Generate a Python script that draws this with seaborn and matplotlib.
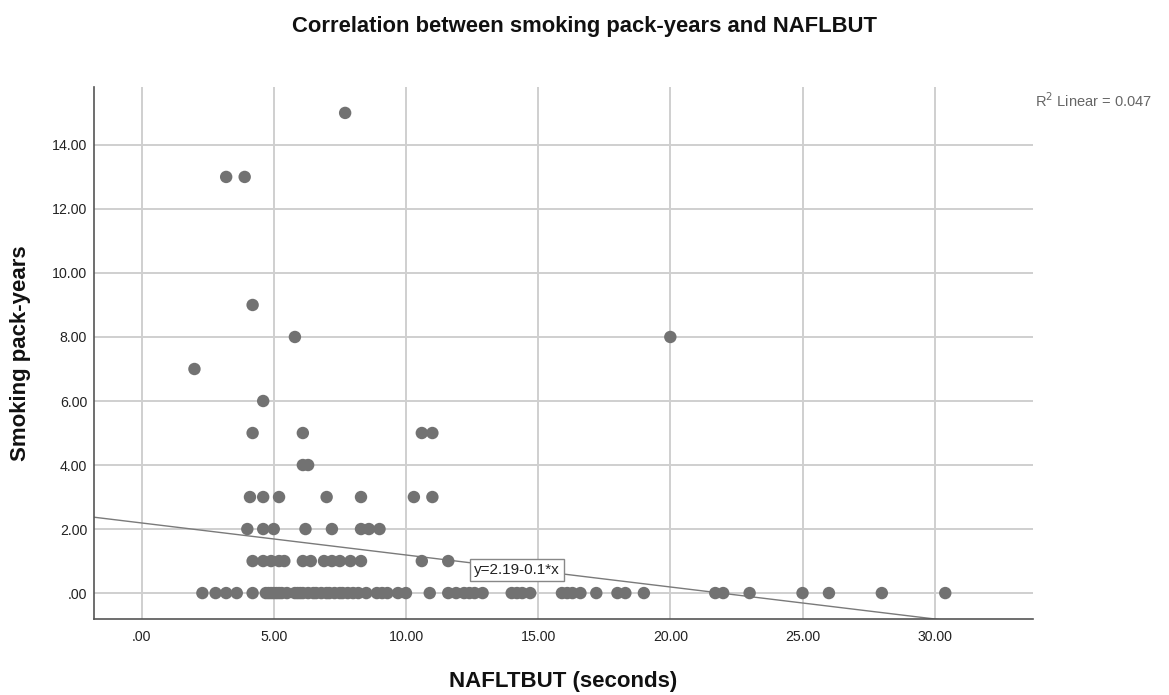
import numpy as np
import pandas as pd
import matplotlib
matplotlib.use("Agg")
import matplotlib.pyplot as plt
import seaborn as sns

# NAFLTBUT (seconds) and smoking pack-years, grouped by pack-years value
x_py0 = [2.3, 2.8, 3.2, 3.6, 4.2, 4.7, 4.8, 4.9, 5.0, 5.1, 5.2, 5.3, 5.5, 5.8,
         5.9, 6.0, 6.1, 6.3, 6.5, 6.6, 6.8, 7.0, 7.1, 7.3, 7.5, 7.6, 7.8, 8.0,
         8.2, 8.5, 8.9, 9.1, 9.3, 9.7, 10.0, 10.9, 11.6, 11.9, 12.2, 12.4,
         12.6, 12.9, 14.0, 14.2, 14.4, 14.7, 15.9, 16.1, 16.3, 16.6, 17.2,
         18.0, 18.3, 19.0, 21.7, 22.0, 23.0, 25.0, 26.0, 28.0, 30.4]
x_py1 = [4.2, 4.6, 4.9, 5.2, 5.4, 6.1, 6.4, 6.9, 7.2, 7.5, 7.9, 8.3, 10.6, 11.6]
x_py2 = [4.0, 4.6, 5.0, 6.2, 7.2, 8.3, 8.6, 9.0]
x_py3 = [4.1, 4.6, 5.2, 7.0, 8.3, 10.3, 11.0]
x_py4 = [6.1, 6.3]
x_py5 = [4.2, 6.1, 10.6, 11.0]
x_py6 = [4.6]
x_py7 = [2.0]
x_py8 = [5.8, 20.0]
x_py9 = [4.2]
x_py13 = [3.2, 3.9]
x_py15 = [7.7]

# Linear fit reported for the data
fit_intercept = 2.19
fit_slope = -0.1
r_squared = 0.047

x_ticks = [0, 5, 10, 15, 20, 25, 30]
y_ticks = [0, 2, 4, 6, 8, 10, 12, 14]

groups = {0: x_py0, 1: x_py1, 2: x_py2, 3: x_py3, 4: x_py4, 5: x_py5,
          6: x_py6, 7: x_py7, 8: x_py8, 9: x_py9, 13: x_py13, 15: x_py15}
df = pd.DataFrame([(xv, py) for py, xs in groups.items() for xv in xs],
                  columns=["butt", "packyears"])

sns.set_theme(style="white")
plt.rcParams["font.family"] = ["Liberation Sans", "DejaVu Sans"]

fig = plt.figure(figsize=(11.69, 6.95), dpi=100)
ax = fig.add_axes([0.0804, 0.1089, 0.8033, 0.7664])

xlim = (-1.80, 33.72)
ylim = (-0.82, 15.82)

ax.set_xticks(x_ticks)
ax.set_yticks(y_ticks)
ax.grid(True, color="#cfcfcf", linewidth=1.4)
ax.set_axisbelow(True)

sns.scatterplot(data=df, x="butt", y="packyears", ax=ax, s=80,
                color="#727272", edgecolor="none", zorder=3, legend=False)

line_x = np.array(xlim)
line_df = pd.DataFrame({"x": line_x, "y": fit_intercept + fit_slope * line_x})
sns.lineplot(data=line_df, x="x", y="y", ax=ax, color="#7a7a7a",
             linewidth=1.0, zorder=2)

ax.set_xlim(*xlim)
ax.set_ylim(*ylim)


def fmt(v):
    s = "%.2f" % v
    return s[1:] if s.startswith("0") else s


ax.set_xticklabels([fmt(v) for v in x_ticks], fontsize=10.2)
ax.set_yticklabels([fmt(v) for v in y_ticks], fontsize=10.2)
ax.tick_params(axis="x", length=0, colors="#222222", pad=8)
ax.tick_params(axis="y", length=0, colors="#222222", pad=5)

for side in ("top", "right"):
    ax.spines[side].set_visible(False)
for side in ("left", "bottom"):
    ax.spines[side].set_color("#555555")
    ax.spines[side].set_linewidth(1.2)

ax.set_xlabel("NAFLTBUT (seconds)", fontsize=16, fontweight="bold",
              labelpad=19, color="#111111")
ax.set_ylabel("Smoking pack-years", fontsize=16, fontweight="bold",
              labelpad=15, color="#111111")

ax.text(14.2, 0.72,
        "y=%.2f%s%g*x" % (fit_intercept, "-" if fit_slope < 0 else "+",
                          abs(fit_slope)),
        fontsize=11, ha="center", va="center", color="#222222", zorder=5,
        bbox=dict(boxstyle="square,pad=0.25", facecolor="white",
                  edgecolor="#888888", linewidth=1))

fig.text(0.885, 0.855, "R$^2$ Linear = %.3f" % r_squared, fontsize=10.5,
         color="#666666", ha="left", va="center")

fig.suptitle("Correlation between smoking pack-years and NAFLBUT",
             fontsize=15.8, fontweight="bold", y=0.977, color="#111111")

fig.savefig("out.png", dpi=100)
